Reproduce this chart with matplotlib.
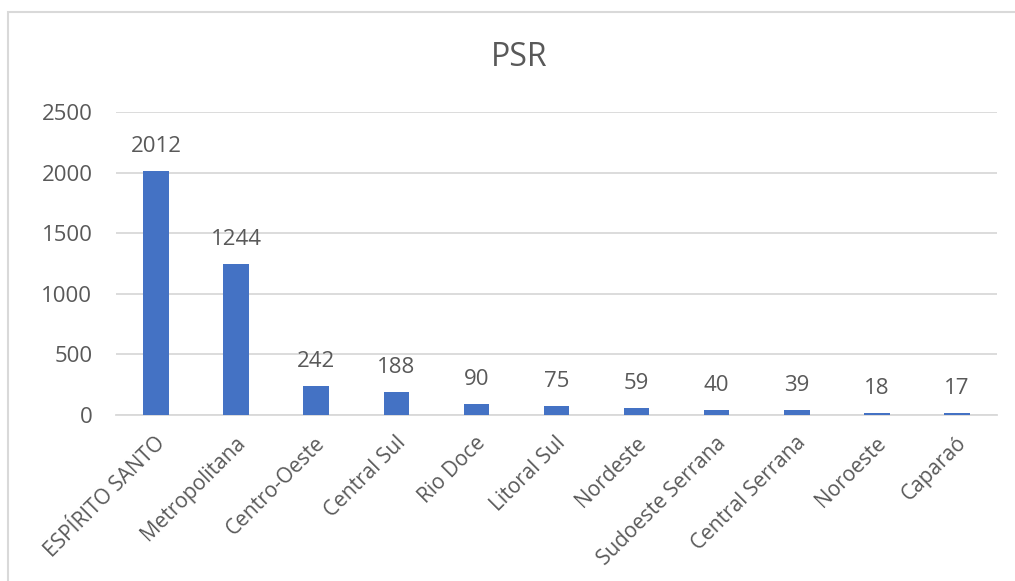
import matplotlib.pyplot as plt
from matplotlib.patches import Rectangle
from matplotlib.transforms import ScaledTranslation

# data
regions = ["ESPÍRITO SANTO", "Metropolitana", "Centro-Oeste", "Central Sul",
           "Rio Doce", "Litoral Sul", "Nordeste", "Sudoeste Serrana",
           "Central Serrana", "Noroeste", "Caparaó"]
psr = [2012, 1244, 242, 188, 90, 75, 59, 40, 39, 18, 17]
yticks = [0, 500, 1000, 1500, 2000, 2500]

BAR = "#4472C4"
TXT = "#595959"
GRID = "#D9D9D9"

plt.rcParams['font.family'] = ['Open Sans', 'DejaVu Sans']

fig = plt.figure(figsize=(10.15, 5.81), dpi=100)
ax = fig.add_axes([116 / 1015, 1 - 415 / 581, (997 - 116) / 1015, (415 - 112) / 581])

# chart area border (cut off at right/bottom in the reference)
fig.patches.append(Rectangle((8 / 1015, -0.1), 1.2, 1.1 - 12 / 581,
                             transform=fig.transFigure, fill=False,
                             edgecolor=GRID, lw=1.5))

x = range(len(regions))
ax.bar(x, psr, width=0.32, color=BAR, zorder=3)
for xi, v in zip(x, psr):
    ax.annotate(str(v), (xi, v), xytext=(0, 10), textcoords="offset points",
                ha="center", va="bottom", fontsize=16, color=TXT)

ax.set_xlim(-0.5, len(regions) - 0.5)
ax.set_ylim(0, 2500)
ax.set_yticks(yticks)
ax.set_yticklabels([str(t) for t in yticks])
ax.yaxis.grid(True, color=GRID, lw=1.3, zorder=0)
ax.set_axisbelow(True)

ax.set_xticks(list(x))
ax.set_xticklabels(regions, rotation=45, ha="right", va="center",
                   rotation_mode="anchor", fontsize=15)
ax.tick_params(axis="both", length=0, labelcolor=TXT)
ax.tick_params(axis="y", pad=17, labelsize=16)
ax.tick_params(axis="x", pad=18)
# nudge the slanted labels a little to the right, as in the reference
shift = ScaledTranslation(6 / 100, 0, fig.dpi_scale_trans)
for lbl in ax.get_xticklabels():
    lbl.set_transform(lbl.get_transform() + shift)

for side in ["top", "right", "left"]:
    ax.spines[side].set_visible(False)
ax.spines["bottom"].set_color(GRID)
ax.spines["bottom"].set_linewidth(1.3)

fig.text(519 / 1015, 1 - 57 / 581, "PSR", ha="center", va="center",
         fontsize=23, color=TXT)

fig.savefig("out.png", dpi=100)
